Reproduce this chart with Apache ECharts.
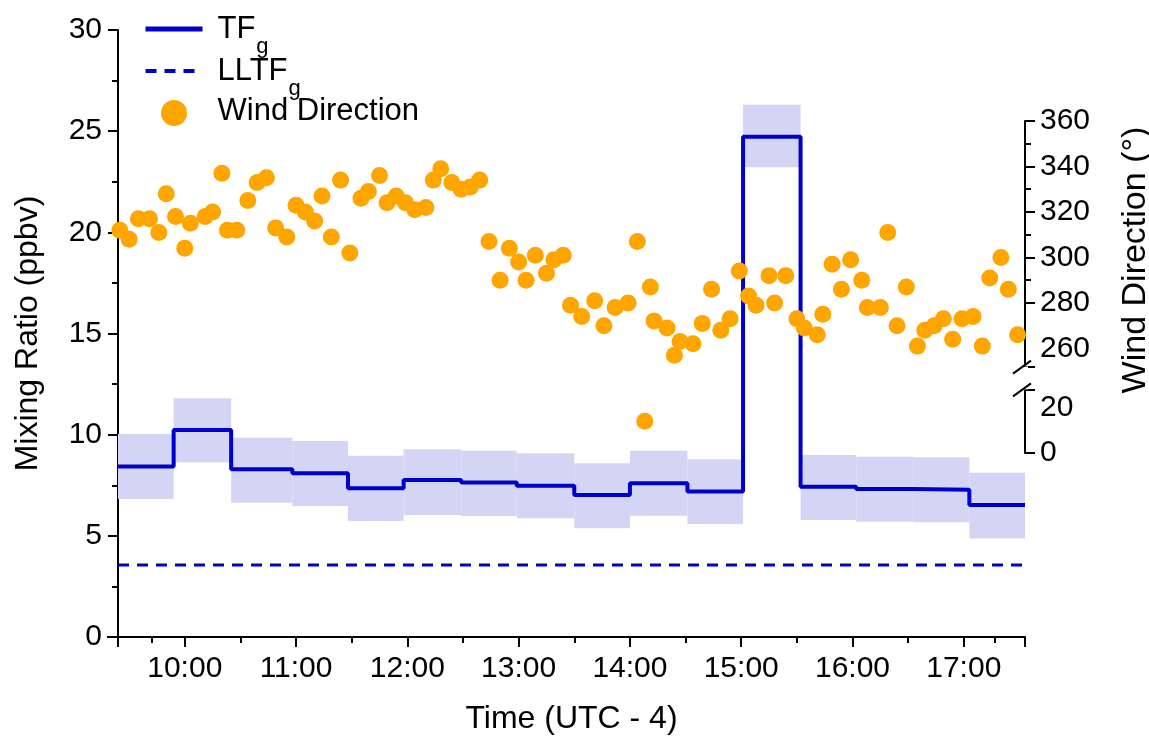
<!DOCTYPE html>
<html>
<head>
<meta charset="utf-8">
<title>Mixing ratio and wind direction</title>
<script src="https://cdn.jsdelivr.net/npm/echarts@6.0.0/dist/echarts.min.js"></script>
<style>
  html, body { margin: 0; padding: 0; background: #fff; }
  #main { width: 1149px; height: 736px; }
</style>
</head>
<body>
<div id="main"></div>
<script>
// TF_g, 30 min blocks: start of each block, value and uncertainty band
var tfStart = ['09:24', '09:54', '10:25', '10:58', '11:28', '11:58', '12:29', '12:59',
               '13:30', '14:00', '14:31', '15:01', '15:32', '16:02', '16:33', '17:03'];
var tfEnd = '17:33';
var tfValue = [8.43, 10.23, 8.29, 8.09, 7.35, 7.76, 7.63, 7.47, 7.02, 7.60, 7.19, 24.73, 7.43, 7.32, 7.28, 6.52];
var tfLow   = [6.82, 8.62, 6.64, 6.48, 5.73, 6.03, 5.98, 5.87, 5.37, 5.99, 5.59, 23.22, 5.78, 5.70, 5.67, 4.87];
var tfHigh  = [10.03, 11.80, 9.85, 9.69, 8.96, 9.28, 9.21, 9.08, 8.59, 9.21, 8.78, 26.30, 9.00, 8.91, 8.88, 8.12];
var lltfValue = 3.56;

// wind direction (degrees)
var windTime = ['09:25', '09:30', '09:35', '09:41', '09:46', '09:50', '09:55', '10:00', '10:03', '10:11',
                '10:15', '10:20', '10:23', '10:28', '10:34', '10:39', '10:44', '10:49', '10:55', '11:00',
                '11:05', '11:10', '11:14', '11:19', '11:24', '11:29', '11:35', '11:39', '11:45', '11:49',
                '11:54', '11:59', '12:04', '12:10', '12:14', '12:18', '12:24', '12:29', '12:34', '12:39',
                '12:44', '12:50', '12:55', '13:00', '13:04', '13:09', '13:15', '13:19', '13:24', '13:28',
                '13:34', '13:41', '13:46', '13:52', '13:59', '14:04', '14:08', '14:11', '14:13', '14:20',
                '14:24', '14:27', '14:34', '14:39', '14:44', '14:49', '14:54', '14:59', '15:04', '15:08',
                '15:15', '15:18', '15:24', '15:30', '15:34', '15:41', '15:44', '15:49', '15:54', '15:59',
                '16:05', '16:08', '16:15', '16:19', '16:24', '16:29', '16:35', '16:39', '16:44', '16:49',
                '16:54', '16:59', '17:05', '17:10', '17:14', '17:20', '17:24', '17:29'];
var windDir = [312, 308, 317, 317, 311, 328, 318, 304, 315, 318,
               320, 337, 312, 312, 325, 333, 335, 313, 309, 323,
               320, 316, 327, 309, 334, 302, 326, 329, 336, 324,
               327, 324, 321, 322, 334, 339, 333, 330, 331, 334,
               307, 290, 304, 298, 290, 301, 293, 299, 301, 279,
               274, 281, 270, 278, 280, 307, 14, 287, 272, 269,
               257, 263, 262, 271, 286, 268, 273, 294, 283, 279,
               292, 280, 292, 273, 269, 266, 275, 297, 286, 299,
               290, 278, 278, 311, 270, 287, 261, 268, 270, 273,
               264, 273, 274, 261, 291, 300, 286, 266];

// wind axis: labelled values either side of the break
var windTicks = [0, 20, 260, 280, 300, 320, 340, 360];
var windBreak = [28, 252];

var axisStart = '09:24', axisEnd = '17:33';

var font = '"Liberation Sans", Arial, sans-serif';
var blue = '#0000cd';
var bandColor = '#d4d4f5';
var orange = '#ffa500';

function toTime(s) {
    var p = s.split(':');
    return new Date(2019, 5, 1, +p[0], +p[1]).getTime();
}

var tfData = tfStart.map(function (t, i) { return [toTime(t), tfValue[i]]; });
tfData.push([toTime(tfEnd), tfValue[tfValue.length - 1]]);

var bandData = tfStart.map(function (t, i) {
    var t1 = i < tfStart.length - 1 ? tfStart[i + 1] : tfEnd;
    return [toTime(t), toTime(t1), tfLow[i], tfHigh[i]];
});

var windData = windTime.map(function (t, i) { return [toTime(t), windDir[i]]; });

var axisLine = { lineStyle: { color: '#000', width: 2 } };
var tick = { length: 10, lineStyle: { color: '#000', width: 2 } };
var minor = { show: true, splitNumber: 2, length: 6, lineStyle: { color: '#000', width: 2 } };

var chart = echarts.init(document.getElementById('main'));
var option = {
    animation: false,
    backgroundColor: '#fff',
    textStyle: { fontFamily: font },
    grid: [
        { left: 118, right: 124, top: 30, bottom: 99, outerBoundsMode: 'none', containLabel: false },
        { left: 118, right: 124, top: 121, bottom: 283, outerBoundsMode: 'none', containLabel: false }
    ],
    legend: {
        orient: 'vertical',
        left: 143,
        top: 12,
        padding: 0,
        itemWidth: 57,
        itemHeight: 26,
        itemGap: -10,
        data: [
            { name: 'TFg', itemStyle: { opacity: 0 }, lineStyle: { width: 5 } },
            { name: 'LLTFg', itemStyle: { opacity: 0 }, lineStyle: { width: 4, type: [11, 8] } },
            { name: 'Wind Direction' }
        ],
        formatter: function (name) {
            if (name === 'TFg') return '{m|TF}{s|g}';
            if (name === 'LLTFg') return '{m|LLTF}{s|g}';
            return '{w|' + name + '}';
        },
        textStyle: {
            rich: {
                m: { fontSize: 31, lineHeight: 34, color: '#000', fontFamily: font, verticalAlign: 'top', padding: [2, 0, 0, 10] },
                s: { fontSize: 22, lineHeight: 24, color: '#000', fontFamily: font, verticalAlign: 'top', padding: [24, 0, 6, 1] },
                w: { fontSize: 31, lineHeight: 34, color: '#000', fontFamily: font, verticalAlign: 'top', padding: [0, 0, 20, 10] }
            }
        }
    },
    xAxis: [{
        type: 'time',
        gridIndex: 0,
        min: toTime(axisStart),
        max: toTime(axisEnd),
        minInterval: 3600 * 1000,
        maxInterval: 3600 * 1000,
        name: 'Time (UTC - 4)',
        nameLocation: 'middle',
        nameGap: 66,
        nameTextStyle: { fontSize: 32, color: '#000', fontFamily: font },
        axisLine: axisLine,
        axisTick: tick,
        minorTick: minor,
        splitLine: { show: false },
        axisLabel: { formatter: '{HH}:{mm}', fontSize: 30, color: '#000', margin: 17, fontFamily: font,
                     showMinLabel: false, showMaxLabel: false }
    }, {
        type: 'time',
        gridIndex: 1,
        min: toTime(axisStart),
        max: toTime(axisEnd),
        show: false
    }],
    yAxis: [{
        type: 'value',
        gridIndex: 0,
        min: 0,
        max: 30,
        interval: 5,
        name: 'Mixing Ratio (ppbv)',
        nameLocation: 'middle',
        nameGap: 74,
        nameTextStyle: { fontSize: 32, color: '#000', fontFamily: font },
        axisLine: { show: true, lineStyle: { color: '#000', width: 2 } },
        axisTick: { show: true, length: 10, lineStyle: { color: '#000', width: 2 } },
        minorTick: minor,
        splitLine: { show: false },
        axisLabel: { fontSize: 30, color: '#000', margin: 16, fontFamily: font }
    }, {
        type: 'value',
        gridIndex: 1,
        position: 'right',
        min: 0,
        max: 360,
        interval: 20,
        breaks: [{ start: windBreak[0], end: windBreak[1], gap: 10 }],
        breakArea: { show: false, itemStyle: { opacity: 0 } },
        name: 'Wind Direction (°)',
        nameLocation: 'middle',
        nameGap: 94,
        nameTextStyle: { fontSize: 34, color: '#000', fontFamily: font, padding: [0, 0, 0, 54] },
        axisLine: { show: true, lineStyle: { color: '#000', width: 2 } },
        axisTick: { show: true, length: 10, lineStyle: { color: '#000', width: 2 } },
        minorTick: minor,
        splitLine: { show: false },
        axisLabel: {
            fontSize: 30, color: '#000', margin: 15, fontFamily: font,
            customValues: windTicks,
            hideOverlap: false
        }
    }],
    series: [{
        name: 'band',
        type: 'custom',
        xAxisIndex: 0,
        yAxisIndex: 0,
        z: 1,
        silent: true,
        encode: { x: [0, 1], y: [2, 3] },
        renderItem: function (params, api) {
            var p0 = api.coord([api.value(0), api.value(3)]);
            var p1 = api.coord([api.value(1), api.value(2)]);
            return {
                type: 'rect',
                shape: { x: p0[0], y: p0[1], width: p1[0] - p0[0], height: p1[1] - p0[1] },
                style: { fill: bandColor }
            };
        },
        data: bandData
    }, {
        name: 'TFg',
        type: 'line',
        step: 'end',
        xAxisIndex: 0,
        yAxisIndex: 0,
        z: 3,
        symbol: 'none',
        lineStyle: { color: blue, width: 4 },
        itemStyle: { color: blue },
        data: tfData
    }, {
        name: 'LLTFg',
        type: 'line',
        xAxisIndex: 0,
        yAxisIndex: 0,
        z: 3,
        symbol: 'none',
        lineStyle: { color: blue, width: 3, type: [11, 8] },
        itemStyle: { color: blue },
        data: [[toTime(axisStart), lltfValue], [toTime(axisEnd), lltfValue]]
    }, {
        name: 'Wind Direction',
        type: 'scatter',
        xAxisIndex: 1,
        yAxisIndex: 1,
        z: 4,
        symbolSize: 17,
        itemStyle: { color: orange, opacity: 1 },
        data: windData
    }]
};
chart.setOption(option);

// break marks on the wind direction axis, and the x axis line running a little past the y axis
var ax = chart.convertToPixel({ xAxisIndex: 1 }, toTime(axisEnd));
var x0 = chart.convertToPixel({ xAxisIndex: 0 }, toTime(axisStart));
var y0 = chart.convertToPixel({ yAxisIndex: 0 }, 0);
var yHi = chart.convertToPixel({ yAxisIndex: 1 }, windBreak[1]);
var yLo = chart.convertToPixel({ yAxisIndex: 1 }, windBreak[0]);
chart.setOption({
    graphic: [
        { type: 'rect', z: 100, shape: { x: ax - 3, y: yHi, width: 6, height: yLo - yHi }, style: { fill: '#fff' } },
        { type: 'line', z: 101, shape: { x1: ax - 12, y1: yHi + 7, x2: ax + 6, y2: yHi - 6 }, style: { stroke: '#000', lineWidth: 2 } },
        { type: 'line', z: 101, shape: { x1: ax - 12, y1: yLo + 7, x2: ax + 6, y2: yLo - 6 }, style: { stroke: '#000', lineWidth: 2 } },
        { type: 'line', z: 101, shape: { x1: x0 - 11, y1: y0, x2: x0, y2: y0 }, style: { stroke: '#000', lineWidth: 2 } }
    ]
});
</script>
</body>
</html>
